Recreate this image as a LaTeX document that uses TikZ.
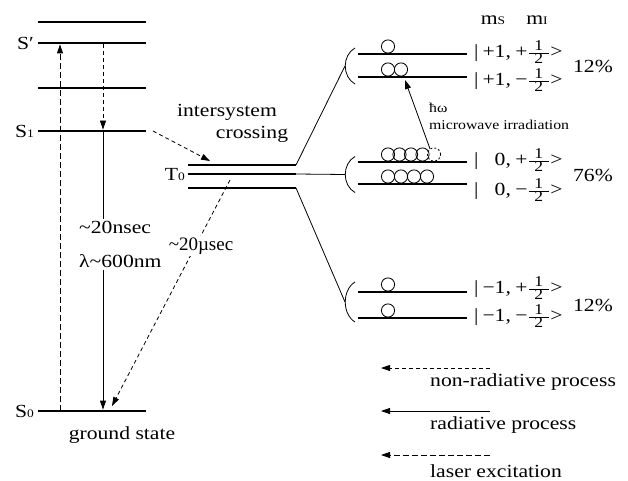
\documentclass[tikz,border=0pt]{standalone}
\usepackage{fontspec}
\setmainfont{Liberation Serif}[FakeStretch=1.17]
\newfontfamily\plainserif{Liberation Serif}
\usetikzlibrary{calc}
\usetikzlibrary{arrows.meta}
\def\spinr{6.6pt}
\newcommand\lowsub[1]{{\fontsize{11.5}{12}\selectfont #1}}
\newcommand\halfsize{\fontsize{15}{15}\selectfont}
\newcommand\half{$\frac{\mbox{\hspace{5.5pt}\halfsize 1\hspace{5.5pt}}}{\mbox{\halfsize 2}}$}
\newcommand\ket[2]{|\hspace{4pt}#1,\hspace{4.5pt}#2\half\kern0.5pt>}
\tikzset{
    level/.style = {line width=2.6pt},
    fanline/.style = {line width=0.8pt},
    nonrad/.style = {line width=0.8pt, dash pattern=on 4pt off 3pt},
    laser/.style = {line width=0.8pt, dash pattern=on 6pt off 3pt},
    radiative/.style = {line width=0.8pt},
    spin/.style = {circle, draw, line width=0.8pt, minimum size=2*\spinr, inner sep=0pt},
    small/.style = {font=\fontsize{13.5}{15}\selectfont},
}

\begin{document}
\begin{tikzpicture}[x=1pt, y=-1pt, every node/.style={font=\fontsize{18.5}{22}\selectfont, inner sep=2pt},
        >={Triangle[length=9pt, width=6pt]}]
        \useasboundingbox (0,0) rectangle (628,481);

        % Energy levels
        \foreach \name/\xa/\xb/\y in {s3/38/146/22, sp/38/146/43, s2/38/146/88, s1/38/146/131, s0/38/146/411,
                t1/188/296/165, t0/188/296/174, t2/188/296/188,
                p1/358/467/54, p2/358/467/77, z1/358/467/162, z2/358/467/184, m1/358/467/292, m2/358/467/318}{
            \coordinate (\name-w) at (\xa,\y);
            \coordinate (\name-e) at (\xb,\y);
            \draw[level] (\name-w) -- (\name-e);
        }

        % Level names
        \node[anchor=east] (sp-lbl) at ([xshift=-2pt]sp-w) {S′};
        \node[anchor=east] (s1-lbl) at ([xshift=-2pt]s1-w) {S\lowsub{1}};
        \node[anchor=east] (s0-lbl) at ([xshift=-2pt]s0-w) {S\lowsub{0}};
        \node[anchor=east] (t0-lbl) at ([xshift=-1pt]t0-w) {T\lowsub{0}};
        \node (gs) at (122,435) {ground state};
        \node (isc1) at (227,112) {intersystem};
        \node (isc2) at (252,134) {crossing};

        % Transitions on the singlet side
        \draw[laser, ->] ([xshift=22pt]s0-w) -- ([xshift=22pt, yshift=-1.4pt]sp-w);
        \draw[nonrad, ->] ([xshift=65pt, yshift=-1.4pt]sp-w) -- ([xshift=65pt, yshift=1.4pt]s1-w);
        \draw[radiative, ->] ([xshift=65pt]s1-w) -- ([xshift=65pt, yshift=1.4pt]s0-w);
        \node[fill=white, align=left, anchor=west] (rad-lbl) at (77,244.5) {\textasciitilde20nsec\\[12pt]λ\textasciitilde600nm};
        \draw[nonrad, ->] ([xshift=7pt]s1-e) -- ([xshift=22pt, yshift=4pt]t1-w);
        \draw[nonrad, ->] ([xshift=42pt, yshift=-6pt]t0-w) -- ([xshift=74pt, yshift=5pt]s0-w);
        \node[fill=white, font=\plainserif\fontsize{19}{22}\selectfont] (phos-lbl) at (201,246) {\textasciitilde20µsec};

        % Zero field splitting of T0
        \coordinate (br-p) at (345,66);
        \coordinate (br-z) at (345,174.5);
        \coordinate (br-m) at (345,302);
        \draw[fanline] (t1-e) -- (br-p);
        \draw[fanline] (t0-e) -- (br-z);
        \draw[fanline] (t2-e) -- (br-m);
        \foreach \b/\h in {br-p/18, br-z/18, br-m/20}{
            \draw[fanline] ($(\b)+(10,-\h)$) .. controls ($(\b)+(-3,-0.6*\h)$) and ($(\b)+(-3,0.6*\h)$) .. ($(\b)+(10,\h)$);
        }

        % Populations
        \foreach \lev/\y/\xs in {p1/54/{388}, p2/77/{388,401}, z1/162/{388,399.5,411,422.5}, z2/184/{388,401,414,427}, m1/292/{388}, m2/318/{388}}{
            \foreach \x [count=\i] in \xs {
                \node[spin] (\lev-spin\i) at (\x,\y-7.5) {};
            }
        }
        \node[spin, dash pattern=on 2pt off 2pt] (z1-spin5) at (434,154.5) {};
        \draw[radiative, ->] (z1-spin5.125) -- ($(p2-w)+(47,3)$);
        \node[small, anchor=west] (hw) at (427,108) {ħω};
        \node[small, anchor=west] (mw) at (427,125) {microwave irradiation};

        % Sublevel labels
        \node (ms) at (493,20) {m\lowsub{S}};
        \node (mi) at (537,20) {m\lowsub{I}};
        \node[anchor=west] (ket-p1) at (472,52) {\ket{+1}{+}};
        \node[anchor=west] (ket-p2) at (472,80) {\ket{+1}{−}};
        \node[anchor=west] (ket-z1) at (472,160) {\ket{\phantom{+}0}{+}};
        \node[anchor=west] (ket-z2) at (472,190) {\ket{\phantom{+}0}{−}};
        \node[anchor=west] (ket-m1) at (472,288) {\ket{−1}{+}};
        \node[anchor=west] (ket-m2) at (472,316) {\ket{−1}{−}};
        \node (pc-p) at (593,66) {12\%};
        \node (pc-z) at (593,175) {76\%};
        \node (pc-m) at (593,305) {12\%};

        % Legend
        \node[anchor=west] (lg-nonrad) at (428,382) {non-radiative process};
        \node[anchor=west] (lg-rad) at (428,425) {radiative process};
        \node[anchor=west] (lg-laser) at (428,471) {laser excitation};
        \draw[nonrad, ->] ($(lg-nonrad.west)+(62,-14)$) -- ++(-109,0);
        \draw[radiative, ->] ($(lg-rad.west)+(62,-14)$) -- ++(-109,0);
        \draw[laser, ->] ($(lg-laser.west)+(62,-16)$) -- ++(-109,0);
\end{tikzpicture}
\end{document}
